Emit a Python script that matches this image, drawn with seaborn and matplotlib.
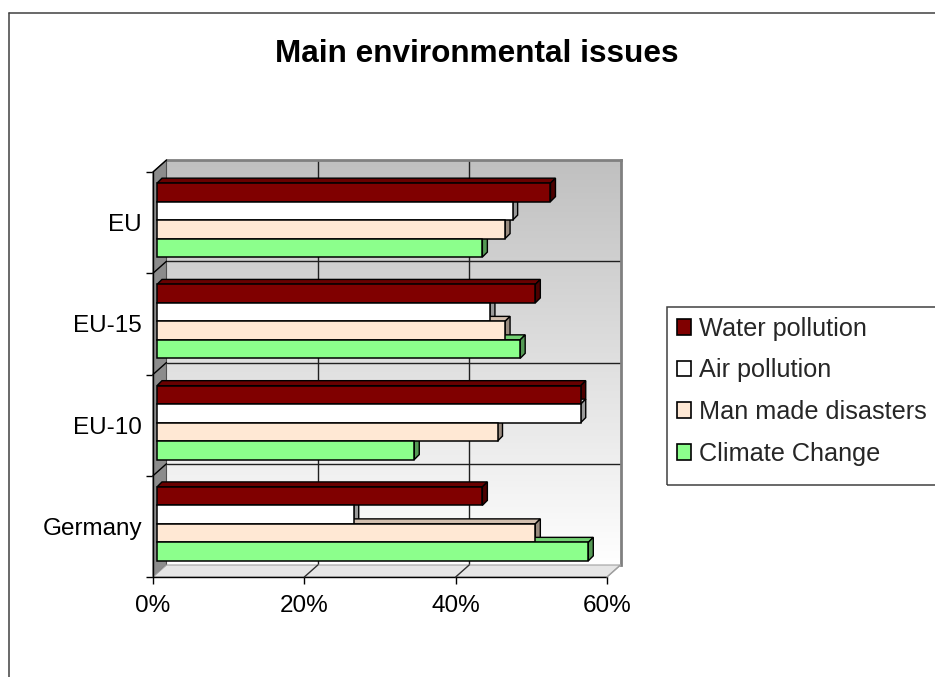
import numpy as np
import pandas as pd
import matplotlib
matplotlib.use("Agg")
import matplotlib.pyplot as plt
import seaborn as sns
from matplotlib.patches import Polygon, Rectangle
from matplotlib.lines import Line2D
from matplotlib.transforms import ScaledTranslation
import matplotlib.colors as mcolors

# ---- data -------------------------------------------------------------
regions = ["EU", "EU-15", "EU-10", "Germany"]
issues = ["Water pollution", "Air pollution", "Man made disasters", "Climate Change"]
water = [52, 50, 56, 43]
air = [47, 44, 56, 26]
disasters = [46, 46, 45, 50]
climate = [43, 48, 34, 57]
x_ticks = [0, 20, 40, 60]
x_tick_labels = ["0%", "20%", "40%", "60%"]

colors = ["#800000", "#ffffff", "#ffe8d4", "#8cff8c"]

df = pd.DataFrame({
    "Region": np.repeat(regions, len(issues)),
    "Issue": issues * len(regions),
    "Value": [v for grp in zip(water, air, disasters, climate) for v in grp],
})

# ---- figure -----------------------------------------------------------
sns.set_theme(style="white")
plt.rcParams["font.family"] = ["Liberation Sans", "DejaVu Sans"]

W, H = 935, 677
fig = plt.figure(figsize=(W / 100, H / 100), dpi=100)
fig.patch.set_facecolor("white")


def fx(x):
    return x / W


def fy(y):
    return 1 - y / H


# front plane of the 3-D box and the depth of the walls (pixels)
FL, FR, FT, FB = 153, 607, 172, 577
DX, DY = 13.5, 12

ax = fig.add_axes([fx(FL), fy(FB), (FR - FL) / W, (FB - FT) / H])
bax = fig.add_axes([fx(FL + DX), fy(FB - DY), (FR - FL) / W, (FB - FT) / H], zorder=-1)

# back wall with vertical grey gradient and grid
grad = np.linspace(0, 1, 256).reshape(-1, 1)
wall_cmap = mcolors.LinearSegmentedColormap.from_list("wall", ["#c0c0c0", "#ffffff"])
bax.imshow(grad, extent=[0, 60, 3.5, -0.5], aspect="auto", cmap=wall_cmap, zorder=0)
bax.set_xlim(0, 60)
bax.set_ylim(3.5, -0.5)
bax.set_xticks([20, 40])
bax.set_yticks([0.5, 1.5, 2.5])
bax.grid(True, color="#202020", linewidth=1.0)
bax.tick_params(length=0, labelleft=False, labelbottom=False)
for side in ["left", "bottom"]:
    bax.spines[side].set_visible(False)
for side in ["top", "right"]:
    bax.spines[side].set_color("#808080")
    bax.spines[side].set_linewidth(2)

# ---- bars -------------------------------------------------------------
ax.set_facecolor("none")
sns.barplot(data=df, y="Region", x="Value", hue="Issue", order=regions,
            hue_order=issues, palette=colors, orient="h", width=0.73,
            saturation=1, edgecolor="black", linewidth=1.1, legend=False, ax=ax)
ax.set_xlim(0, 60)
ax.set_ylim(3.5, -0.5)
ax.set_xlabel("")
ax.set_ylabel("")
for s in ax.spines.values():
    s.set_visible(False)

# bars sit a little behind the front plane
shift = ScaledTranslation(4 / 100, 2.5 / 100, fig.dpi_scale_trans)
px_x = (FR - FL) / 60.0
px_y = (FB - FT) / 4.0
ddx, ddy = 5 / px_x, -5 / px_y


def darker(c, f):
    r, g, b = mcolors.to_rgb(c)
    return (r * f, g * f, b * f)


bars = [p for p in ax.patches if isinstance(p, Rectangle)]
for i, p in enumerate(bars):
    c = colors[i // len(regions)]
    p.set_transform(ax.transData + shift)
    p.set_zorder(3)
    x0 = p.get_x()
    x1 = x0 + p.get_width()
    yt = min(p.get_y(), p.get_y() + p.get_height())
    yb = max(p.get_y(), p.get_y() + p.get_height())
    top = Polygon([(x0, yt), (x0 + ddx, yt + ddy), (x1 + ddx, yt + ddy), (x1, yt)],
                  closed=True, facecolor=darker(c, 0.82), edgecolor="black",
                  linewidth=1.0, zorder=2.5, transform=ax.transData + shift, clip_on=False)
    side = Polygon([(x1, yt), (x1 + ddx, yt + ddy), (x1 + ddx, yb + ddy), (x1, yb)],
                   closed=True, facecolor=darker(c, 0.6), edgecolor="black",
                   linewidth=1.0, zorder=2.5, transform=ax.transData + shift, clip_on=False)
    ax.add_patch(top)
    ax.add_patch(side)

# ---- side wall and floor ---------------------------------------------
tf = fig.transFigure
left_wall = Polygon([(fx(FL), fy(FB)), (fx(FL), fy(FT)), (fx(FL + DX), fy(FT - DY)),
                     (fx(FL + DX), fy(FB - DY))], closed=True, facecolor="#8c8c8c",
                    edgecolor="#505050", linewidth=0.8, transform=tf, clip_on=False, zorder=1)
ax.add_patch(left_wall)
floor = Polygon([(fx(FL), fy(FB)), (fx(FL + DX), fy(FB - DY)), (fx(FR + DX), fy(FB - DY)),
                 (fx(FR), fy(FB))], closed=True, facecolor="#e6e6e6",
                edgecolor="#a0a0a0", linewidth=0.8, transform=tf, clip_on=False, zorder=1)
ax.add_patch(floor)

# front edges of the box
ax.add_line(Line2D([fx(FL), fx(FL)], [fy(FB), fy(FT)], color="black", lw=1.0,
                   transform=tf, clip_on=False, zorder=1.2))
ax.add_line(Line2D([fx(FL), fx(FR)], [fy(FB), fy(FB)], color="black", lw=1.0,
                   transform=tf, clip_on=False, zorder=1.2))
ax.add_line(Line2D([fx(FL), fx(FL + DX)], [fy(FT), fy(FT - DY)], color="black", lw=1.0,
                   transform=tf, clip_on=False, zorder=1.2))

# depth lines from each tick back to the wall
for v in x_ticks[1:]:
    xp, yd = ax.transData.transform((v, 3.5))
    ypix = H - yd
    ax.add_line(Line2D([fx(xp), fx(xp + DX)], [fy(ypix), fy(ypix - DY)],
                       color="#303030" if v < 60 else "#a0a0a0", lw=1.0,
                       transform=tf, clip_on=False, zorder=1.2))
for k in range(1, len(regions)):
    xp, yd = ax.transData.transform((0, k - 0.5))
    ypix = H - yd
    ax.add_line(Line2D([fx(xp), fx(xp + DX)], [fy(ypix), fy(ypix - DY)],
                       color="black", lw=1.0, transform=tf, clip_on=False, zorder=1.2))

# ---- ticks ------------------------------------------------------------
ax.set_xticks(x_ticks, x_tick_labels)
ax.set_yticks(range(len(regions)), regions)
ax.set_yticks(np.arange(-0.5, len(regions)), minor=True)
ax.tick_params(axis="x", which="major", bottom=True, length=5, width=1, color="black",
               direction="out", pad=8, labelsize=17.5, labelcolor="black")
ax.tick_params(axis="y", which="major", left=False, length=0, pad=8,
               labelsize=17.5, labelcolor="black")
ax.tick_params(axis="y", which="minor", left=True, length=5, width=1, color="black",
               direction="out")

# ---- legend -----------------------------------------------------------
handles = [Rectangle((0, 0), 1, 1, facecolor=c, edgecolor="black", linewidth=1.2)
           for c in colors]
leg = fig.legend(handles, issues, loc="upper left", bbox_to_anchor=(fx(667), fy(307)),
                 frameon=False, fontsize=18.2, handlelength=0.58, handleheight=0.58,
                 handletextpad=0.32, labelspacing=0.70, borderpad=0.38, borderaxespad=0)
fig.patches.append(Rectangle((fx(667), fy(485)), fx(300), (485 - 307) / H,
                             facecolor="none", edgecolor="#404040", linewidth=1.1,
                             transform=tf, figure=fig))

# ---- title and outer frame ---------------------------------------------
fig.text(fx(477), fy(54), "Main environmental issues", ha="center", va="center",
         fontsize=22.7, fontweight="bold", color="black")
fig.lines.append(Line2D([fx(9), fx(9)], [fy(13), 0], color="#404040", lw=1.1,
                        transform=tf, figure=fig))
fig.lines.append(Line2D([fx(9), 1], [fy(13), fy(13)], color="#404040", lw=1.1,
                        transform=tf, figure=fig))

fig.savefig("out.png", dpi=100, facecolor="white")
